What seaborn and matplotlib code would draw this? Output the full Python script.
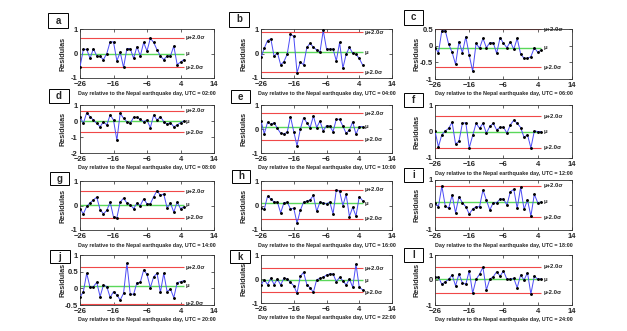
import matplotlib
matplotlib.use("Agg")
import matplotlib.pyplot as plt
from matplotlib.patches import Rectangle
import numpy as np
import pandas as pd
import seaborn as sns

# ---------------- data ----------------
days = list(range(-26, 6))
letters = ["a", "b", "c", "d", "e", "f", "g", "h", "i", "j", "k", "l"]
utc = ["02:00", "04:00", "06:00", "08:00", "10:00", "12:00",
       "14:00", "16:00", "18:00", "20:00", "22:00", "24:00"]

res_a = [-0.55, 0.17, 0.17, -0.2, 0.2, -0.1, -0.12, -0.25, 0.0, 0.48, 0.47, -0.3, 0.05, -0.57, 0.2, 0.2,
         -0.2, 0.28, -0.1, 0.45, 0.1, 0.62, 0.45, 0.15, -0.1, -0.25, -0.1, -0.1, 0.3, -0.45, -0.35, -0.25]
res_b = [-0.16, 0.22, 0.53, 0.6, -0.12, 0.04, -0.46, -0.33, -0.03, 0.79, 0.7, -0.78, -0.35, -0.46, 0.25, 0.42,
         0.25, 0.15, 0.05, 0.94, 0.19, 0.18, 0.18, -0.3, 0.45, -0.6, -0.03, 0.25, 0.01, -0.03, -0.2, -0.46]
res_c = [-0.06, -0.21, 0.45, 0.45, 0.04, -0.2, -0.56, 0.12, -0.21, 0.27, -0.29, -0.77, 0.07, -0.08, 0.22, -0.06,
         0.09, 0.09, -0.23, 0.24, 0.07, -0.06, 0.12, -0.11, 0.22, -0.25, -0.38, -0.38, -0.33, -0.06, -0.2, -0.13]
res_d = [0.27, -0.15, 0.52, 0.27, 0.06, -0.15, -0.36, -0.04, -0.25, 0.38, 0.06, -1.2, 0.48, 0.17, -0.04, -0.15,
         0.23, 0.23, 0.1, -0.04, 0.06, -0.42, 0.38, 0.06, 0.27, -0.04, -0.19, -0.1, -0.36, -0.25, -0.1, 0.0]
res_e = [0.34, -0.2, 0.28, 0.19, 0.26, 0.03, -0.18, -0.2, -0.14, 0.52, -0.11, -0.7, -0.01, 0.47, 0.26, 0.06,
         0.54, 0.06, 0.33, -0.08, 0.14, 0.12, -0.11, 0.41, 0.4, 0.12, -0.18, -0.04, 0.3, -0.22, 0.1, 0.1]
res_f = [0.02, -0.58, -0.12, 0.02, 0.12, 0.35, -0.47, -0.37, 0.31, 0.33, -0.62, -0.15, 0.31, 0.12, 0.31, -0.06,
         0.19, 0.31, 0.06, 0.16, 0.16, -0.06, 0.25, 0.43, 0.31, 0.15, -0.22, -0.12, -0.62, 0.02, 0.0, 0.0]
res_g = [-0.13, -0.34, -0.04, 0.11, 0.23, 0.34, -0.17, -0.34, -0.2, 0.14, -0.47, -0.5, 0.14, 0.3, 0.1, 0.04,
         -0.13, 0.1, 0.0, 0.27, 0.07, 0.07, 0.36, 0.61, 0.41, 0.47, -0.1, 0.1, -0.27, 0.14, -0.13, -0.05]
res_h = [-0.11, -0.16, 0.38, 0.27, 0.14, 0.14, -0.3, 0.11, 0.14, -0.14, -0.11, -0.72, -0.2, 0.14, 0.18, 0.23,
         0.41, -0.24, 0.14, 0.1, 0.07, 0.14, -0.34, 0.64, 0.58, 0.0, 0.45, -0.45, -0.07, -0.43, 0.36, 0.2]
res_i = [0.09, -0.07, 0.76, -0.04, -0.13, 0.4, -0.31, 0.33, 0.09, -0.07, -0.36, -0.16, -0.07, -0.07, 0.6, 0.2,
         -0.2, 0.09, 0.09, 0.24, 0.24, 0.0, 0.53, 0.63, -0.13, 0.71, -0.17, 0.2, -0.44, 0.43, 0.09, 0.12]
res_j = [-0.27, -0.1, 0.45, 0.03, 0.05, 0.18, -0.25, 0.1, 0.05, -0.27, -0.1, -0.2, -0.35, -0.15, 0.75, -0.17,
         -0.18, 0.17, 0.18, 0.55, 0.42, 0.02, 0.35, 0.45, -0.12, 0.45, -0.1, -0.02, -0.28, 0.17, 0.2, 0.23]
res_k = [-0.25, -0.03, -0.23, 0.04, -0.23, 0.0, -0.25, 0.04, 0.0, -0.14, -0.28, -0.59, 0.11, 0.28, -0.23, -0.37,
         -0.55, -0.03, 0.03, 0.07, 0.17, 0.21, 0.21, -0.11, 0.07, -0.07, -0.25, 0.0, -0.34, 0.62, -0.34, -0.45]
res_l = [0.11, 0.11, -0.17, -0.07, 0.03, 0.2, -0.23, 0.24, -0.11, -0.17, 0.37, -0.53, 0.03, 0.23, 0.51, -0.4,
         0.03, 0.13, 0.33, 0.16, 0.36, 0.03, 0.03, 0.07, -0.31, 0.2, 0.0, 0.29, -0.56, 0.16, 0.03, 0.05]
residuals = [res_a, res_b, res_c, res_d, res_e, res_f, res_g, res_h, res_i, res_j, res_k, res_l]

mu_vals = [0.0, 0.05, -0.06, 0.0, 0.1, 0.0, 0.04, 0.09, 0.13, 0.07, -0.05, 0.04]
upper_vals = [0.64, 0.87, 0.5, 0.65, 0.65, 0.58, 0.58, 0.64, 0.76, 0.63, 0.44, 0.53]
lower_vals = [-0.57, -0.76, -0.64, -0.71, -0.45, -0.62, -0.5, -0.54, -0.49, -0.47, -0.55, -0.5]

ylims = [(-1, 1), (-1, 1), (-1, 0.5), (-2, 1), (-1, 1), (-1, 1),
         (-1, 1), (-1, 1), (-1, 1), (-0.5, 1), (-1, 1), (-1, 1)]
yticks = [[-1, 0, 1], [-1, 0, 1], [-1, -0.5, 0, 0.5], [-2, -1, 0, 1], [-1, 0, 1], [-1, 0, 1],
          [-1, 0, 1], [-1, 0, 1], [-1, 0, 1], [-0.5, 0, 0.5, 1], [-1, 0, 1], [-1, 0, 1]]
xticks = [-26, -16, -6, 4, 14]

# ---------------- layout (pixel boxes) ----------------
W, H = 627, 331
axes_px = [(80, 29, 214, 78), (261, 29, 392, 78), (435, 29, 572, 79),
           (80, 105, 214, 153), (261, 105, 392, 153), (435, 105, 572, 158),
           (80, 181, 214, 230), (261, 181, 392, 230), (435, 180, 572, 230),
           (80, 255, 214, 305), (261, 255, 392, 303), (435, 255, 572, 305)]
box_px = [(48, 13, 68, 28), (229, 12, 249, 27), (404, 10, 423, 25),
          (49, 89, 69, 103), (231, 90, 250, 103), (404, 93, 423, 107),
          (50, 172, 69, 185), (232, 170, 250, 183), (404, 168, 423, 182),
          (50, 250, 70, 263), (230, 250, 250, 263), (404, 248, 423, 262)]

sns.set_style("ticks")
plt.rcParams["font.family"] = ["Liberation Sans", "DejaVu Sans"]
plt.rcParams["font.weight"] = "bold"

fig = plt.figure(figsize=(W / 100, H / 100), dpi=100)
fig.patch.set_facecolor("white")

BLUE = "#4b4bf5"
RED = "#f04848"
GREEN = "#5ad85a"

for k in range(12):
    x0, y0, x1, y1 = axes_px[k]
    ax = fig.add_axes([x0 / W, 1 - y1 / H, (x1 - x0) / W, (y1 - y0) / H])
    df = pd.DataFrame({"day": days, "res": residuals[k]})
    ax.hlines(upper_vals[k], days[0], days[-1], color=RED, lw=0.8, zorder=1)
    ax.hlines(lower_vals[k], days[0], days[-1], color=RED, lw=0.8, zorder=1)
    ax.hlines(mu_vals[k], days[0], days[-1], color=GREEN, lw=1.0, zorder=1)
    sns.lineplot(data=df, x="day", y="res", ax=ax, color=BLUE, lw=0.7,
                 marker="o", markersize=1.3, markerfacecolor="black",
                 markeredgecolor="black", zorder=3)
    lab_x = days[-1] + 0.6
    ax.text(lab_x, upper_vals[k], "μ+2.0σ", fontsize=4.3, fontweight="bold", va="center", ha="left")
    ax.text(lab_x, mu_vals[k], "μ", fontsize=4.3, fontweight="bold", va="center", ha="left")
    ax.text(lab_x, lower_vals[k], "μ-2.0σ", fontsize=4.3, fontweight="bold", va="center", ha="left")

    ax.set_xlim(-26, 14)
    ax.set_ylim(*ylims[k])
    ax.set_xticks(xticks)
    ax.set_yticks(yticks[k])
    ax.set_yticklabels([f"{v:g}" for v in yticks[k]])
    ax.tick_params(direction="in", length=2, width=0.5, labelsize=5.5,
                   top=True, right=True)
    ax.tick_params(axis="x", pad=2.2)
    ax.tick_params(axis="y", pad=1.5)
    for lbl in ax.get_xticklabels() + ax.get_yticklabels():
        lbl.set_fontweight("bold")
    for s in ax.spines.values():
        s.set_linewidth(0.6)
        s.set_color("#333333")
    h_px = y1 - y0
    ax.set_xlabel(f"Day relative to the Nepal earthquake day, UTC = {utc[k]}",
                  fontsize=3.9, fontweight="bold", va="center")
    ax.xaxis.set_label_coords(0.5, -15 / h_px)
    ax.set_ylabel("Residulas", fontsize=5.2, fontweight="bold", va="center")
    ax.yaxis.set_label_coords(-0.13, 0.5)

    bx0, by0, bx1, by1 = box_px[k]
    fig.patches.append(Rectangle((bx0 / W, 1 - by1 / H), (bx1 - bx0) / W, (by1 - by0) / H,
                                 transform=fig.transFigure, fill=False, ec="black", lw=0.7))
    fig.text((bx0 + bx1) / 2 / W, 1 - (by0 + by1) / 2 / H, letters[k], fontsize=7,
             fontweight="bold", ha="center", va="center")

fig.savefig("out.png", dpi=100, facecolor="white")
